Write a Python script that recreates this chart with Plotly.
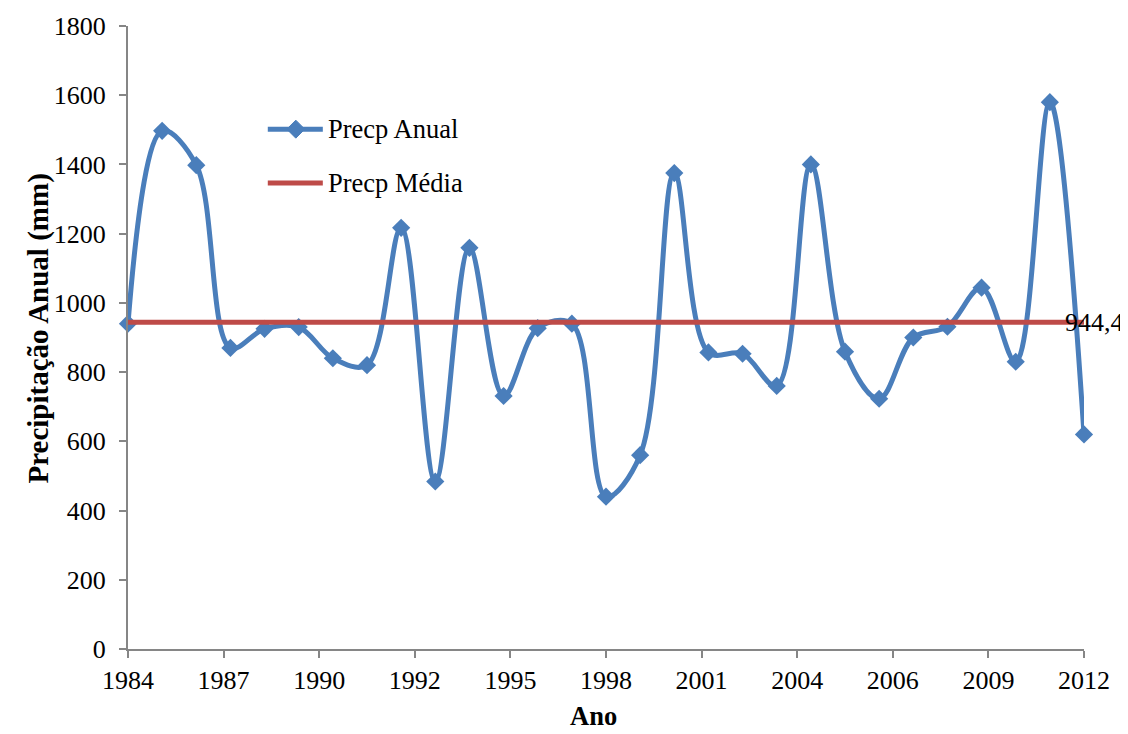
import plotly.graph_objects as go

# ---- data ----
years = list(range(1984, 2013))
precip_anual = [940, 1497, 1398, 870, 925, 930, 840, 820, 1217, 484, 1159, 731, 927, 940,
                440, 560, 1375, 857, 853, 760, 1400, 859, 723, 900, 931, 1044, 830, 1580, 620]
precip_media = 944.4
media_label = "944,4"
x_tickvals = [1984 + 2.8 * k for k in range(11)]
x_ticktext = ["1984", "1987", "1990", "1992", "1995", "1998", "2001", "2004", "2006", "2009", "2012"]
series_names = ["Precp Anual", "Precp Média"]

BLUE = "#4A7EBB"
RED = "#BE4B48"
AXIS = "#868686"
FONT = "Liberation Serif, Times New Roman, serif"

OFF = 8  # page body margin
W, H = 1128 - OFF, 734 - OFF
L = 128.3 - OFF
T = 25.7 - OFF
R = W - (1083.7 - OFF)
B = H - (649.5 - OFF)
PW, PH = W - L - R, H - T - B

def px(xref_pix):
    return (xref_pix - OFF - L) / PW

def py(yref_pix):
    return (H - B - (yref_pix - OFF)) / PH

fig = go.Figure()
fig.add_trace(go.Scatter(
    x=years, y=precip_anual, mode="lines+markers", name=series_names[0],
    line=dict(color=BLUE, width=5, shape="spline", smoothing=1.0),
    marker=dict(symbol="diamond", size=14, color=BLUE),
    cliponaxis=False, showlegend=False))
fig.add_trace(go.Scatter(
    x=[years[0], years[-1]], y=[precip_media, precip_media], mode="lines",
    name=series_names[1], line=dict(color=RED, width=5),
    cliponaxis=False, showlegend=False))

shapes = []
annotations = []
# custom legend
leg_rows = [(129, BLUE, True), (183, RED, False)]
for (ypix, col, diamond), name in zip(leg_rows, series_names):
    shapes.append(dict(type="line", xref="paper", yref="paper",
                       x0=px(268), x1=px(323), y0=py(ypix), y1=py(ypix),
                       line=dict(color=col, width=5)))
    if diamond:
        shapes.append(dict(type="path", xref="paper", yref="paper",
                           xsizemode="pixel", ysizemode="pixel",
                           xanchor=px(296), yanchor=py(ypix),
                           path="M0,9 L9,0 L0,-9 L-9,0 Z",
                           fillcolor=col, line=dict(color=col, width=1)))
    annotations.append(dict(text=name, xref="paper", yref="paper",
                            x=px(326), y=py(ypix), xanchor="left", yanchor="middle",
                            showarrow=False, font=dict(family=FONT, size=26.5, color="black")))

# mean label
annotations.append(dict(text=media_label, x=years[-1], y=precip_media, xref="x", yref="y",
                        xanchor="left", yanchor="middle", xshift=-21, showarrow=False,
                        font=dict(family=FONT, size=26, color="black")))
# axis titles
annotations.append(dict(text="<b>Ano</b>", xref="paper", yref="paper", x=px(594), y=py(734),
                        xanchor="center", yanchor="bottom", showarrow=False,
                        font=dict(family=FONT, size=26.5, color="black")))
annotations.append(dict(text="<b>Precipitação Anual (mm)</b>", xref="paper", yref="paper",
                        x=px(39), y=py(329), xanchor="center", yanchor="middle",
                        textangle=-90, showarrow=False,
                        font=dict(family=FONT, size=29, color="black")))

fig.update_layout(
    width=W, height=H,
    margin=dict(l=L, r=R, t=T, b=B, autoexpand=False),
    paper_bgcolor="white", plot_bgcolor="white",
    font=dict(family=FONT, size=26, color="black"),
    shapes=shapes, annotations=annotations, showlegend=False,
    xaxis=dict(range=[1984, 2012], tickmode="array", tickvals=x_tickvals, ticktext=x_ticktext,
               showline=True, linecolor=AXIS, linewidth=2, ticks="outside", ticklen=7,
               tickwidth=2, tickcolor=AXIS, showgrid=False, zeroline=False,
               tickfont=dict(family=FONT, size=26, color="black")),
    yaxis=dict(range=[0, 1800], dtick=200, tick0=0,
               showline=True, linecolor=AXIS, linewidth=2, ticks="outside", ticklen=7,
               tickwidth=2, tickcolor=AXIS, showgrid=False, zeroline=False,
               ticklabelstandoff=8,
               tickfont=dict(family=FONT, size=26, color="black")),
)

fig.write_html("out.html")
